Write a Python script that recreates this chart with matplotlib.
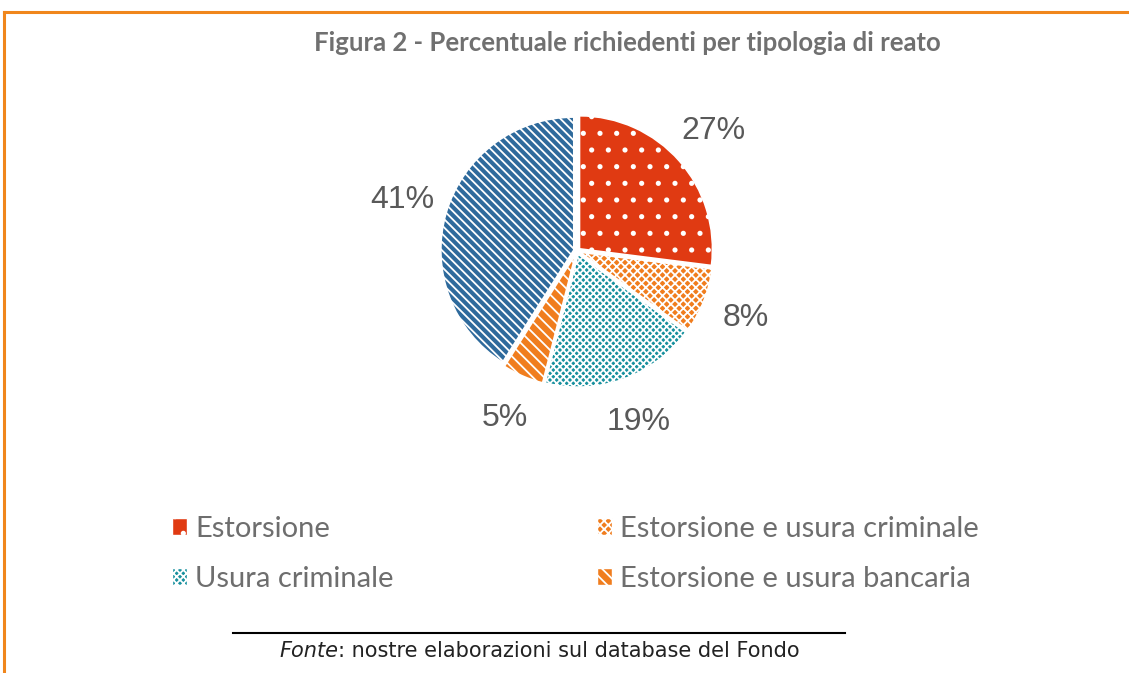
import numpy as np
import matplotlib
matplotlib.use("Agg")
import matplotlib.pyplot as plt
from matplotlib.lines import Line2D
from matplotlib.patches import Patch

# data
categorie = ["Estorsione", "Estorsione e usura criminale", "Usura criminale",
             "Estorsione e usura bancaria", "Usura bancaria"]
percentuali = [27, 8, 19, 5, 41]
etichette = ["27%", "8%", "19%", "5%", "41%"]

colori = ["#E03A12", "#F07D1E", "#17909E", "#F07D1E", "#2E6A9C"]
tratteggi = [".", "xxxx", "xxxxx", "\\\\\\", "\\\\\\\\"]

plt.rcParams["hatch.linewidth"] = 1.3

fig = plt.figure(figsize=(11.29, 6.73), dpi=100, facecolor="w")

# cornice arancione (sopra e a sinistra)
fig.add_artist(Line2D([4/1129, 1], [1-12/673, 1-12/673], color="#F0861C", lw=2.2))
fig.add_artist(Line2D([4/1129, 4/1129], [0, 1-12/673], color="#F0861C", lw=2.2))

fig.text(627/1129, 1-43/673, "Figura 2 - Percentuale richiedenti per tipologia di reato",
         ha="center", va="center", fontsize=18.5, fontweight="bold",
         color="#707070", family="Lato")

ax = fig.add_axes([377.5/1129, 222.5/673, 399/1129, 399/673])
wedges, texts = ax.pie(percentuali, labels=etichette, startangle=90, counterclock=False,
                       colors=colori, explode=[0.025]*5, labeldistance=1.34,
                       wedgeprops=dict(edgecolor="white", linewidth=1.2),
                       textprops=dict(fontsize=23, color="#595959", family="Liberation Sans"))
for w, h in zip(wedges, tratteggi):
    w.set_hatch(h)
for t in texts:
    t.set_ha("center")
    t.set_va("center")
ax.set_xlim(-1.5, 1.5)
ax.set_ylim(-1.5, 1.5)
ax.set_aspect("equal")
ax.axis("off")

# legenda su due colonne
def maniglia(i):
    return Patch(facecolor=colori[i], edgecolor="white", hatch=tratteggi[i])

leg_kw = dict(frameon=False, labelcolor="#6E6E6E", handlelength=0.5,
              handleheight=0.5, handletextpad=0.3, labelspacing=0.82,
              loc="upper left", borderaxespad=0, borderpad=0,
              prop=dict(family="Lato", size=21))
fig.legend([maniglia(0), maniglia(2)], [categorie[0], categorie[2]],
           bbox_to_anchor=(172/1129, 1-516/673), **leg_kw)
fig.legend([maniglia(1), maniglia(3)], [categorie[1], categorie[3]],
           bbox_to_anchor=(597/1129, 1-516/673), **leg_kw)

# fonte
fig.add_artist(Line2D([233/1129, 845/1129], [1-633/673, 1-633/673], color="black", lw=1.5))
t1 = fig.text(279/1129, 1-651/673, "Fonte", style="italic", fontsize=15,
              color="#222222", va="center", family="DejaVu Sans")
ax.annotate(": nostre elaborazioni sul database del Fondo", xy=(1, 0.5), xycoords=t1,
            va="center", ha="left", fontsize=15, color="#222222",
            family="DejaVu Sans", annotation_clip=False)

fig.savefig("out.png", dpi=100)
